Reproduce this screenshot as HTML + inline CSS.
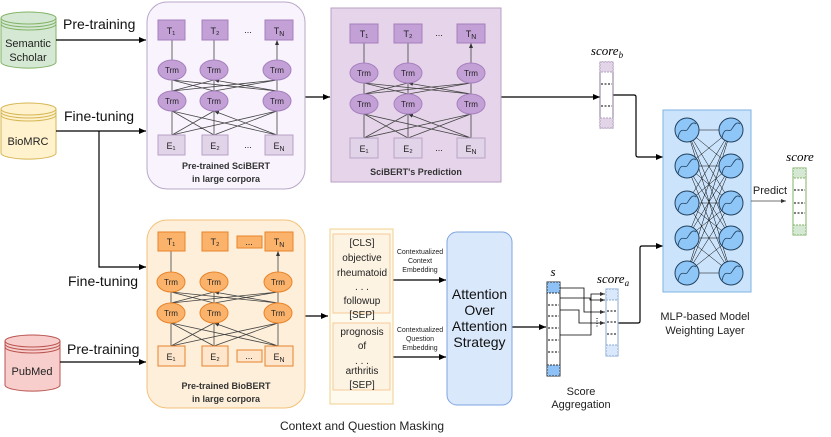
<!DOCTYPE html>
<html><head><meta charset="utf-8"><style>body{margin:0;background:#fff}svg{display:block}</style></head><body>
<svg width="831" height="437" viewBox="0 0 831 437" xmlns="http://www.w3.org/2000/svg" font-family="Liberation Sans, sans-serif">
<defs>
<marker id="a" markerWidth="8" markerHeight="8" refX="7" refY="4" orient="auto" markerUnits="userSpaceOnUse"><path d="M0,1 L7,4 L0,7 z" fill="#000"/></marker>
<marker id="s" markerWidth="6" markerHeight="6" refX="5" refY="3" orient="auto" markerUnits="userSpaceOnUse"><path d="M0,1 L5,3 L0,5 z" fill="#333"/></marker>
</defs>
<g stroke-width="1">
<path d="M1,18 v44 a27,6 0 0 0 55,0 v-44" fill="#d5e8d4" stroke="#82b366"/>
<ellipse cx="28.5" cy="18" rx="27.5" ry="6" fill="#d5e8d4" stroke="#82b366"/>
<path d="M1,21 a27.5,6 0 0 0 55,0 M1,24 a27.5,6 0 0 0 55,0" fill="none" stroke="#82b366"/>
<path d="M1,109 v44 a27,6 0 0 0 55,0 v-44" fill="#fff2cc" stroke="#d6b656"/>
<ellipse cx="28.5" cy="109" rx="27.5" ry="6" fill="#fff2cc" stroke="#d6b656"/>
<path d="M1,112 a27.5,6 0 0 0 55,0 M1,115 a27.5,6 0 0 0 55,0" fill="none" stroke="#d6b656"/>
<path d="M5,341 v44 a27,6 0 0 0 55,0 v-44" fill="#f8cecc" stroke="#b85450"/>
<ellipse cx="32.5" cy="341" rx="27.5" ry="6" fill="#f8cecc" stroke="#b85450"/>
<path d="M5,344 a27.5,6 0 0 0 55,0 M5,347 a27.5,6 0 0 0 55,0" fill="none" stroke="#b85450"/>
</g>
<g font-size="11" text-anchor="middle" fill="#222">
<text x="28" y="47">Semantic</text><text x="28" y="61">Scholar</text>
<text x="28" y="145">BioMRC</text>
<text x="32" y="375">PubMed</text>
</g>
<g font-size="14" fill="#111">
<text x="63" y="29">Pre-training</text>
<text x="64" y="121">Fine-tuning</text>
<text x="68" y="286">Fine-tuning</text>
<text x="67" y="354">Pre-training</text>
</g>
<g stroke="#000" stroke-width="1.2" fill="none" marker-end="url(#a)">
<path d="M56,40 H146"/>
<path d="M56,131 H146"/>
<path d="M99,131 V267 H146"/>
<path d="M60,362 H146"/>
<path d="M305,97 H330"/>
<path d="M501,97 H600"/>
<path d="M613,95 H634 q2,0 2,2 V155 q0,2 2,2 H663"/>
<path d="M305,316 H328"/>
<path d="M393,280 H446"/>
<path d="M393,357 H446"/>
<path d="M512,327 H546"/>
<path d="M618,323 H638 q2,0 2,-2 V248 q0,-2 2,-2 H663"/>
</g>
<rect x="147" y="2" width="158" height="187" rx="20" fill="#f8f3fd" stroke="#b8a8c8"/>
<rect x="331" y="8" width="170" height="174" fill="#e6d5ea" stroke="#b89fc6"/>
<rect x="147" y="220" width="158" height="188" rx="20" fill="#fdefd9" stroke="#f3c27a"/>
<g stroke="#444" stroke-width="0.8" marker-end="url(#s)" fill="none">
<path d="M172,135 V111 M172,135 L214,111 M172,135 L277,111 M214,135 V111 M214,135 L172,111 M214,135 L277,111 M277,135 V111 M277,135 L172,111 M277,135 L214,111"/>
<path d="M172,91 V80 M172,91 L214,80 M172,91 L277,80 M214,91 V80 M214,91 L172,80 M214,91 L277,80 M277,91 V80 M277,91 L172,80 M277,91 L214,80"/>
<path d="M172,60 V40 M214,60 V40 M277,60 V40"/>
<path d="M364,138 V114 M364,138 L408,114 M364,138 L471,114 M408,138 V114 M408,138 L364,114 M408,138 L471,114 M471,138 V114 M471,138 L364,114 M471,138 L408,114"/>
<path d="M364,94 V83 M364,94 L408,83 M364,94 L471,83 M408,94 V83 M408,94 L364,83 M408,94 L471,83 M471,94 V83 M471,94 L364,83 M471,94 L408,83"/>
<path d="M364,63 V43 M408,63 V43 M471,63 V43"/>
<path d="M171,346 V323 M171,346 L214,323 M171,346 L278,323 M214,346 V323 M214,346 L171,323 M214,346 L278,323 M278,346 V323 M278,346 L171,323 M278,346 L214,323"/>
<path d="M171,303 V292 M171,303 L214,292 M171,303 L278,292 M214,303 V292 M214,303 L171,292 M214,303 L278,292 M278,303 V292 M278,303 L171,292 M278,303 L214,292"/>
<path d="M171,272 V251 M278,272 V251"/>
</g>
<g fill="#c3a0d6" stroke="#a680bf">
<rect x="158" y="20" width="27" height="20"/><rect x="202" y="20" width="26" height="20"/><rect x="265" y="20" width="28" height="20"/>
<rect x="350" y="24" width="28" height="19"/><rect x="394" y="24" width="28" height="19"/><rect x="457" y="24" width="28" height="19"/>
<ellipse cx="172" cy="70" rx="14" ry="10"/><ellipse cx="214" cy="70" rx="14" ry="10"/><ellipse cx="277" cy="70" rx="14" ry="10"/>
<ellipse cx="172" cy="101" rx="14" ry="10"/><ellipse cx="214" cy="101" rx="14" ry="10"/><ellipse cx="277" cy="101" rx="14" ry="10"/>
<ellipse cx="364" cy="73" rx="14" ry="10"/><ellipse cx="408" cy="73" rx="14" ry="10"/><ellipse cx="471" cy="73" rx="14" ry="10"/>
<ellipse cx="364" cy="104" rx="14" ry="10"/><ellipse cx="408" cy="104" rx="14" ry="10"/><ellipse cx="471" cy="104" rx="14" ry="10"/>
</g>
<g fill="#e1d3e8" stroke="#b8a2c6">
<rect x="158" y="135" width="27" height="20"/><rect x="202" y="135" width="26" height="20"/><rect x="265" y="135" width="28" height="20"/>
<rect x="350" y="138" width="28" height="20"/><rect x="394" y="138" width="28" height="20"/><rect x="457" y="138" width="28" height="20"/>
</g>
<g fill="#fbb36b" stroke="#e8832b">
<rect x="158" y="232" width="27" height="19"/><rect x="202" y="232" width="26" height="19"/><rect x="237" y="236" width="25" height="12"/><rect x="265" y="232" width="28" height="19"/>
<ellipse cx="171" cy="282" rx="14" ry="10"/><ellipse cx="214" cy="282" rx="14" ry="10"/><ellipse cx="278" cy="282" rx="14" ry="10"/>
<ellipse cx="171" cy="313" rx="14" ry="10"/><ellipse cx="214" cy="313" rx="14" ry="10"/><ellipse cx="278" cy="313" rx="14" ry="10"/>
</g>
<g fill="#fde6cc" stroke="#e8832b">
<rect x="158" y="346" width="27" height="20"/><rect x="202" y="346" width="26" height="20"/><rect x="237" y="350" width="25" height="12"/><rect x="265" y="346" width="28" height="20"/>
</g>
<g font-size="9" text-anchor="middle" fill="#222">
<text x="171" y="34">T₁</text><text x="215" y="34">T₂</text><text x="279" y="34">T<tspan font-size="7" dy="2">N</tspan></text><text x="248" y="33">...</text>
<text x="364" y="37">T₁</text><text x="408" y="37">T₂</text><text x="471" y="37">T<tspan font-size="7" dy="2">N</tspan></text><text x="439" y="36">...</text>
<text x="171" y="245">T₁</text><text x="215" y="245">T₂</text><text x="279" y="245">T<tspan font-size="7" dy="2">N</tspan></text><text x="249" y="245">...</text>
<g font-size="8"><text x="172" y="73">Trm</text><text x="214" y="73">Trm</text><text x="277" y="73">Trm</text>
<text x="172" y="104">Trm</text><text x="214" y="104">Trm</text><text x="277" y="104">Trm</text>
<text x="364" y="76">Trm</text><text x="408" y="76">Trm</text><text x="471" y="76">Trm</text>
<text x="364" y="107">Trm</text><text x="408" y="107">Trm</text><text x="471" y="107">Trm</text>
<text x="171" y="285">Trm</text><text x="214" y="285">Trm</text><text x="278" y="285">Trm</text>
<text x="171" y="316">Trm</text><text x="214" y="316">Trm</text><text x="278" y="316">Trm</text></g>
<text x="171" y="149">E₁</text><text x="215" y="149">E₂</text><text x="279" y="149">E<tspan font-size="7" dy="2">N</tspan></text><text x="248" y="148">...</text>
<text x="364" y="152">E₁</text><text x="408" y="152">E₂</text><text x="471" y="152">E<tspan font-size="7" dy="2">N</tspan></text><text x="439" y="151">...</text>
<text x="171" y="360">E₁</text><text x="215" y="360">E₂</text><text x="279" y="360">E<tspan font-size="7" dy="2">N</tspan></text><text x="249" y="359">...</text>
<g font-weight="bold" font-size="9" fill="#333"><text x="226" y="169">Pre-trained SciBERT</text><text x="226" y="182">in large corpora</text>
<text x="416" y="175">SciBERT's Prediction</text>
<text x="226" y="389">Pre-trained BioBERT</text><text x="226" y="402">in large corpora</text></g>
</g>
<rect x="330" y="229" width="63" height="175" fill="#fffaee" stroke="#f0d08f"/>
<rect x="333" y="234" width="57" height="79" fill="#fdf3e3" stroke="#f6c99a"/>
<rect x="333" y="323" width="57" height="67" fill="#fdf3e3" stroke="#f6c99a"/>
<g font-size="10" text-anchor="middle" fill="#222">
<text x="362" y="246">[CLS]</text><text x="362" y="261">objective</text><text x="362" y="276">rheumatoid</text><text x="362" y="290">. . .</text><text x="362" y="304">followup</text><text x="362" y="318">[SEP]</text>
<text x="362" y="335">prognosis</text><text x="362" y="349">of</text><text x="362" y="364">. . .</text><text x="362" y="374">arthritis</text><text x="362" y="388">[SEP]</text>
</g>
<g font-size="7" text-anchor="middle" fill="#222">
<text x="420" y="254">Contextualized</text><text x="420" y="263">Context</text><text x="420" y="272">Embedding</text>
<text x="420" y="332">Contextualized</text><text x="420" y="341">Question</text><text x="420" y="350">Embedding</text>
</g>
<rect x="447" y="232" width="65" height="173" rx="10" fill="#dae8fc" stroke="#7ea6e0"/>
<g font-size="14" text-anchor="middle" fill="#111">
<text x="479.5" y="299">Attention</text><text x="479.5" y="315">Over</text><text x="479.5" y="331">Attention</text><text x="479.5" y="347">Strategy</text>
</g>
<rect x="600" y="62" width="13" height="66" fill="#fff" stroke="#8a7a95"/>
<rect x="600" y="62" width="13" height="10" fill="#e1d5e7" stroke="#b49fc1" stroke-dasharray="2,1"/>
<rect x="600" y="118" width="13" height="10" fill="#e1d5e7" stroke="#b49fc1" stroke-dasharray="2,1"/>
<path d="M601,84 h11 M601,106 h11" stroke="#000" stroke-dasharray="2,1.5"/>
<text x="607" y="55" font-family="Liberation Serif, serif" font-style="italic" font-size="13" text-anchor="middle">score<tspan font-size="9" dy="3">b</tspan></text>
<rect x="547" y="282" width="13" height="94" fill="#fff" stroke="#333"/>
<rect x="547" y="282" width="13" height="11" fill="#8ec1f5" stroke="#333" stroke-dasharray="2,1"/>
<rect x="547" y="365" width="13" height="11" fill="#8ec1f5" stroke="#333" stroke-dasharray="2,1"/>
<path d="M548,305 h11 M548,316 h11 M548,328 h11 M548,340 h11 M548,352 h11" stroke="#000" stroke-dasharray="2,1.5"/>
<text x="553" y="276" font-family="Liberation Serif, serif" font-style="italic" font-size="13" text-anchor="middle">s</text>
<rect x="606" y="289" width="12" height="67" fill="#fff" stroke="#8aa9cf"/>
<rect x="606" y="289" width="12" height="11" fill="#dae8fc" stroke="#8aa9cf" stroke-dasharray="2,1"/>
<rect x="606" y="345" width="12" height="11" fill="#dae8fc" stroke="#8aa9cf" stroke-dasharray="2,1"/>
<path d="M607,311 h10 M607,322 h10 M607,334 h10" stroke="#000" stroke-dasharray="2,1.5"/>
<text x="613" y="283" font-family="Liberation Serif, serif" font-style="italic" font-size="13" text-anchor="middle">score<tspan font-size="9" dy="3">a</tspan></text>
<g stroke="#000" stroke-width="0.8" fill="none" marker-end="url(#s)">
<path d="M560,288 H584 V312 H605"/>
<path d="M560,298 H590 V300 H605"/>
<path d="M560,310 H579 V323 H605"/>
<path d="M560,335 H591 V294 H605"/>
</g>
<path d="M597,318 v10" stroke="#000" stroke-dasharray="1,1.5"/>
<g font-size="11" text-anchor="middle" fill="#222">
<text x="581" y="395">Score</text><text x="581" y="408">Aggregation</text>
<text x="705" y="320">MLP-based Model</text><text x="705" y="334">Weighting Layer</text>
<text x="362" y="430" font-size="12">Context and Question Masking</text>
<text x="770" y="194">Predict</text>
</g>
<rect x="663" y="110" width="88" height="182" fill="#cce4fb" stroke="#7db3e0"/>
<g stroke="#000" stroke-width="0.5">
<path d="M687,130 L731,130 M687,130 L731,166 M687,130 L731,203 M687,130 L731,238 M687,130 L731,273
M687,166 L731,130 M687,166 L731,166 M687,166 L731,203 M687,166 L731,238 M687,166 L731,273
M687,203 L731,130 M687,203 L731,166 M687,203 L731,203 M687,203 L731,238 M687,203 L731,273
M687,238 L731,130 M687,238 L731,166 M687,238 L731,203 M687,238 L731,238 M687,238 L731,273
M687,273 L731,130 M687,273 L731,166 M687,273 L731,203 M687,273 L731,238 M687,273 L731,273"/>
</g>
<g fill="#8ec6f7" stroke="#23415e" stroke-width="1">
<circle cx="687" cy="130" r="12"/><circle cx="687" cy="166" r="12"/><circle cx="687" cy="203" r="12"/><circle cx="687" cy="238" r="12"/><circle cx="687" cy="273" r="12"/>
<circle cx="731" cy="130" r="12"/><circle cx="731" cy="166" r="12"/><circle cx="731" cy="203" r="12"/><circle cx="731" cy="238" r="12"/><circle cx="731" cy="273" r="12"/>
</g>
<g fill="none" stroke="#23415e" stroke-width="0.8">
<path d="M678,138 c2,-12 7,-6 9,-8 c2,-2 5,-10 9,-6 M678,174 c2,-12 7,-6 9,-8 c2,-2 5,-10 9,-6 M678,211 c2,-12 7,-6 9,-8 c2,-2 5,-10 9,-6 M678,246 c2,-12 7,-6 9,-8 c2,-2 5,-10 9,-6 M678,281 c2,-12 7,-6 9,-8 c2,-2 5,-10 9,-6"/>
<path d="M722,138 c2,-12 7,-6 9,-8 c2,-2 5,-10 9,-6 M722,174 c2,-12 7,-6 9,-8 c2,-2 5,-10 9,-6 M722,211 c2,-12 7,-6 9,-8 c2,-2 5,-10 9,-6 M722,246 c2,-12 7,-6 9,-8 c2,-2 5,-10 9,-6 M722,281 c2,-12 7,-6 9,-8 c2,-2 5,-10 9,-6"/>
</g>
<path d="M751,201 H786" stroke="#444" stroke-width="0.8" marker-end="url(#s)"/>
<rect x="793" y="168" width="13" height="67" fill="#fff" stroke="#82b366"/>
<rect x="793" y="168" width="13" height="10" fill="#d5e8d4" stroke="#82b366" stroke-dasharray="2,1"/>
<rect x="793" y="225" width="13" height="10" fill="#d5e8d4" stroke="#82b366" stroke-dasharray="2,1"/>
<path d="M794,190 h11 M794,203 h11 M794,213 h11" stroke="#000" stroke-dasharray="2,1.5"/>
<text x="800" y="161" font-family="Liberation Serif, serif" font-style="italic" font-size="13" text-anchor="middle">score</text>
</svg>
</body></html>
